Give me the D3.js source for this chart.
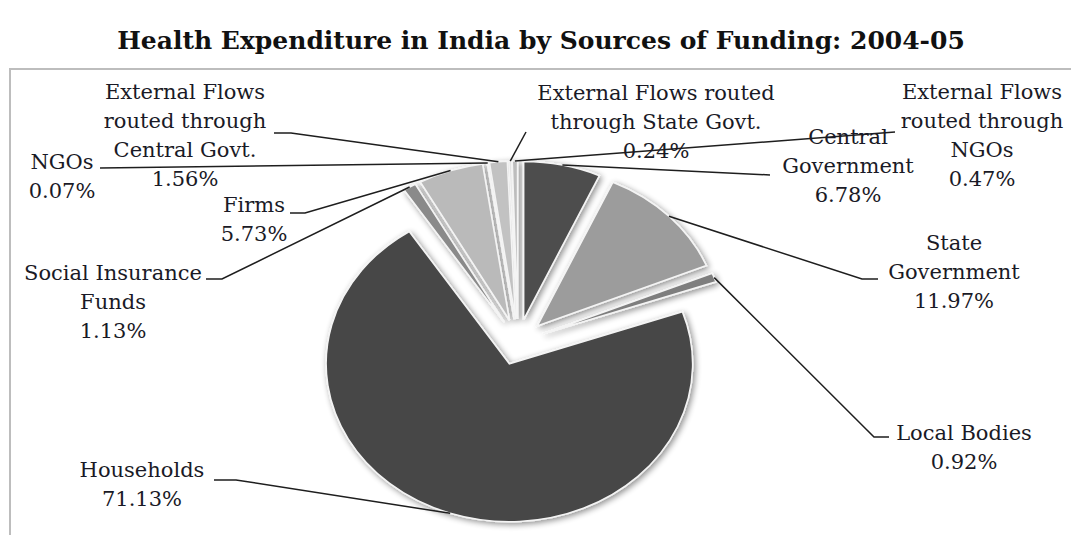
<!DOCTYPE html>
<html>
<head>
<meta charset="utf-8">
<script src="https://cdn.jsdelivr.net/npm/d3@7"></script>
<style>
  body { margin: 0; background: #fff; }
  svg { display: block; }
  .lbl { font-family: "DejaVu Serif", serif; font-size: 21px; fill: #1a1a26; }
  .title { font-family: "DejaVu Serif", serif; font-size: 25px; font-weight: bold; fill: #111; }
</style>
</head>
<body>
<div class="chart"></div>
<script>
var svgWidth = 1071;
var svgHeight = 535;

// data (clockwise from 12 o'clock)
var categories = ["Central Government", "State Government", "Local Bodies", "Households",
  "Social Insurance Funds", "Firms", "NGOs",
  "External Flows routed through Central Govt.",
  "External Flows routed through State Govt.",
  "External Flows routed through NGOs"];
var shares = [6.78, 11.97, 0.92, 71.13, 1.13, 5.73, 0.07, 1.56, 0.24, 0.47];
var labelLines = [
  ["Central", "Government"],
  ["State", "Government"],
  ["Local Bodies"],
  ["Households"],
  ["Social Insurance", "Funds"],
  ["Firms"],
  ["NGOs"],
  ["External Flows", "routed through", "Central Govt."],
  ["External Flows routed", "through State Govt."],
  ["External Flows", "routed through", "NGOs"]
];
var shades = ["#4e4e4e", "#9c9c9c", "#7e7e7e", "#464646", "#8a8a8a", "#bababa",
  "#9a9a9a", "#c2c2c2", "#e4e4e4", "#bdbdbd"];

// label layout: text centre, first line y, leader elbow and end
var labelPos = [
  { x: 848, y: 137, elbow: null, end: [770, 175] },
  { x: 954, y: 243, elbow: [862, 279], end: [878, 279] },
  { x: 964, y: 433, elbow: [874, 437], end: [889, 437] },
  { x: 142, y: 470, elbow: [236, 480], end: [214, 480] },
  { x: 113, y: 273, elbow: [222, 279], end: [206, 279] },
  { x: 254, y: 205, elbow: [305, 213], end: [290, 213] },
  { x: 62, y: 162, elbow: null, end: [100, 168] },
  { x: 185, y: 92, elbow: [291, 133], end: [274, 133] },
  { x: 656, y: 93, elbow: null, end: [526, 132] },
  { x: 982, y: 92, elbow: null, end: [895, 132] }
];

var lineHeight = 29;
var cx = 518, cy = 342, radius = 158, stretchX = 1.16, explode = 23;

var svg = d3.select(".chart")
  .append("svg")
  .attr("width", svgWidth)
  .attr("height", svgHeight);

// soft shadow like the office chart
var defs = svg.append("defs");
var shadow = defs.append("filter").attr("id", "shadow")
  .attr("x", "-20%").attr("y", "-20%").attr("width", "140%").attr("height", "140%");
shadow.append("feGaussianBlur").attr("in", "SourceAlpha").attr("stdDeviation", 3).attr("result", "blur");
shadow.append("feOffset").attr("dx", 2).attr("dy", 2).attr("result", "off");
shadow.append("feComponentTransfer").append("feFuncA").attr("type", "linear").attr("slope", 0.45);
var merge = shadow.append("feMerge");
merge.append("feMergeNode");
merge.append("feMergeNode").attr("in", "SourceGraphic");

// title
svg.append("text")
  .attr("class", "title")
  .attr("x", 541)
  .attr("y", 49)
  .attr("text-anchor", "middle")
  .text("Health Expenditure in India by Sources of Funding: 2004-05");

// chart area frame (top and left edges visible)
svg.append("path")
  .attr("d", "M10,535 V69 H1071")
  .attr("fill", "none")
  .attr("stroke", "#bdbdbd")
  .attr("stroke-width", 2);

var pie = d3.pie().sort(null).value(d => d);
var arcs = pie(shares);
var arc = d3.arc().innerRadius(0).outerRadius(radius);

function midAngle(d) { return (d.startAngle + d.endAngle) / 2; }
function vertex(d) {
  var a = midAngle(d);
  return [cx + explode * Math.sin(a) * stretchX, cy - explode * Math.cos(a)];
}

var pieGroup = svg.append("g").attr("filter", "url(#shadow)");

pieGroup.selectAll("path")
  .data(arcs)
  .enter()
  .append("path")
  .attr("transform", d => {
    var v = vertex(d);
    return `translate(${v[0]},${v[1]}) scale(${stretchX},1)`;
  })
  .attr("d", arc)
  .attr("fill", (d, i) => shades[i])
  .attr("stroke", "#f4f4f4")
  .attr("stroke-width", 1.6)
  .attr("vector-effect", "non-scaling-stroke");

// leader lines from slice edge at mid angle
var leaders = svg.append("g");
arcs.forEach(function (d, i) {
  var v = vertex(d);
  var a = midAngle(d);
  var start = [v[0] + radius * Math.sin(a) * stretchX, v[1] - radius * Math.cos(a)];
  var p = labelPos[i];
  var pts = [start];
  if (p.elbow) pts.push(p.elbow);
  pts.push(p.end);
  leaders.append("path")
    .attr("d", d3.line()(pts))
    .attr("fill", "none")
    .attr("stroke", "#1e1e1e")
    .attr("stroke-width", 1.5);
});

// labels
var fmt = d3.format(".2f");
var labels = svg.append("g");
categories.forEach(function (c, i) {
  var p = labelPos[i];
  var lines = labelLines[i].concat([fmt(shares[i]) + "%"]);
  var t = labels.append("text")
    .attr("class", "lbl")
    .attr("text-anchor", "middle");
  lines.forEach(function (s, k) {
    t.append("tspan")
      .attr("x", p.x)
      .attr("y", p.y + k * lineHeight)
      .attr("dy", "0.35em")
      .text(s);
  });
});
</script>
</body>
</html>
